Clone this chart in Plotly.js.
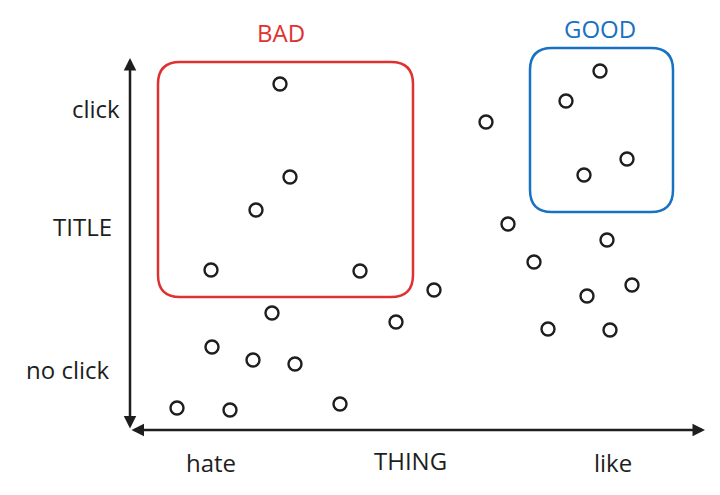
<!DOCTYPE html>
<html>
<head>
<meta charset="utf-8">
<script src="https://cdn.plot.ly/plotly-3.0.1.min.js"></script>
<style>body{margin:0;background:#fff}#chart{width:720px;height:495px}</style>
</head>
<body>
<div id="chart"></div>
<script>
// points (x: hate -> like, y: no click -> click)
var pointX = [15, 16, 12.6, 8.1, 23, 35.6, 43.6, 47, 45.4, 49.7, 37.8, 47.7, 40.4, 50.2, 45.7, 30.4, 26.6, 41.8, 48, 14.2, 8.2, 12.3, 16.5, 4.7, 10, 21];
var pointY = [34.6, 25.3, 22, 16, 15.9, 30.8, 32.9, 35.9, 25.5, 27.1, 20.6, 19, 16.8, 14.5, 13.4, 14, 10.8, 10.1, 10, 11.7, 8.3, 7, 6.6, 2.2, 2, 2.6];

var ink = '#1e1e1e';
var red = '#e03131';
var blue = '#1971c2';
var font = {family: 'Open Sans', size: 24, color: ink};

function rounded(x0, y0, x1, y1, r)
{
    return 'M' + (x0 + r) + ',' + y0 + ' L' + (x1 - r) + ',' + y0 +
        ' Q' + x1 + ',' + y0 + ' ' + x1 + ',' + (y0 + r) +
        ' L' + x1 + ',' + (y1 - r) + ' Q' + x1 + ',' + y1 + ' ' + (x1 - r) + ',' + y1 +
        ' L' + (x0 + r) + ',' + y1 + ' Q' + x0 + ',' + y1 + ' ' + x0 + ',' + (y1 - r) +
        ' L' + x0 + ',' + (y0 + r) + ' Q' + x0 + ',' + y0 + ' ' + (x0 + r) + ',' + y0 + ' Z';
}

function label(text, x, y, color)
{
    return {x: x, y: y, text: text, showarrow: false,
        font: {family: font.family, size: font.size, color: color || ink}};
}

var trace = {
    x: pointX, y: pointY, mode: 'markers', type: 'scatter',
    marker: {symbol: 'circle-open', size: 13, color: ink, line: {width: 2.4, color: ink}},
    hoverinfo: 'skip'
};

var axis = {visible: false, fixedrange: true};
var layout = {
    width: 720, height: 495,
    margin: {l: 0, r: 0, t: 0, b: 0},
    paper_bgcolor: '#fff', plot_bgcolor: '#fff',
    showlegend: false,
    xaxis: Object.assign({range: [-13, 59]}, axis),
    yaxis: Object.assign({range: [-6.5, 43]}, axis),
    shapes: [
        {type: 'path', path: rounded(2.8, 13.3, 28.3, 36.8, 2.2), line: {color: red, width: 2.5}},
        {type: 'path', path: rounded(40, 21.8, 54.3, 38.2, 2.2), line: {color: blue, width: 2.5}}
    ],
    annotations: [
        {x: 57.5, y: 0, ax: 0, ay: 0, axref: 'x', ayref: 'y', showarrow: true,
            arrowhead: 2, startarrowhead: 2, arrowside: 'end+start', arrowsize: 1, arrowwidth: 2.5, arrowcolor: ink, text: ''},
        {x: 0, y: 37.2, ax: 0, ay: 0, axref: 'x', ayref: 'y', showarrow: true,
            arrowhead: 2, startarrowhead: 2, arrowside: 'end+start', arrowsize: 1, arrowwidth: 2.5, arrowcolor: ink, text: ''},
        label('BAD', 15.1, 39.8, red),
        label('GOOD', 47, 40.2, blue),
        label('click', -3.4, 32.2),
        label('TITLE', -4.8, 20.4),
        label('no click', -6.2, 6.1),
        label('hate', 8.1, -3.2),
        label('THING', 28, -3),
        label('like', 48.3, -3.2)
    ]
};

Plotly.newPlot('chart', [trace], layout, {displayModeBar: false, staticPlot: true});
</script>
</body>
</html>
